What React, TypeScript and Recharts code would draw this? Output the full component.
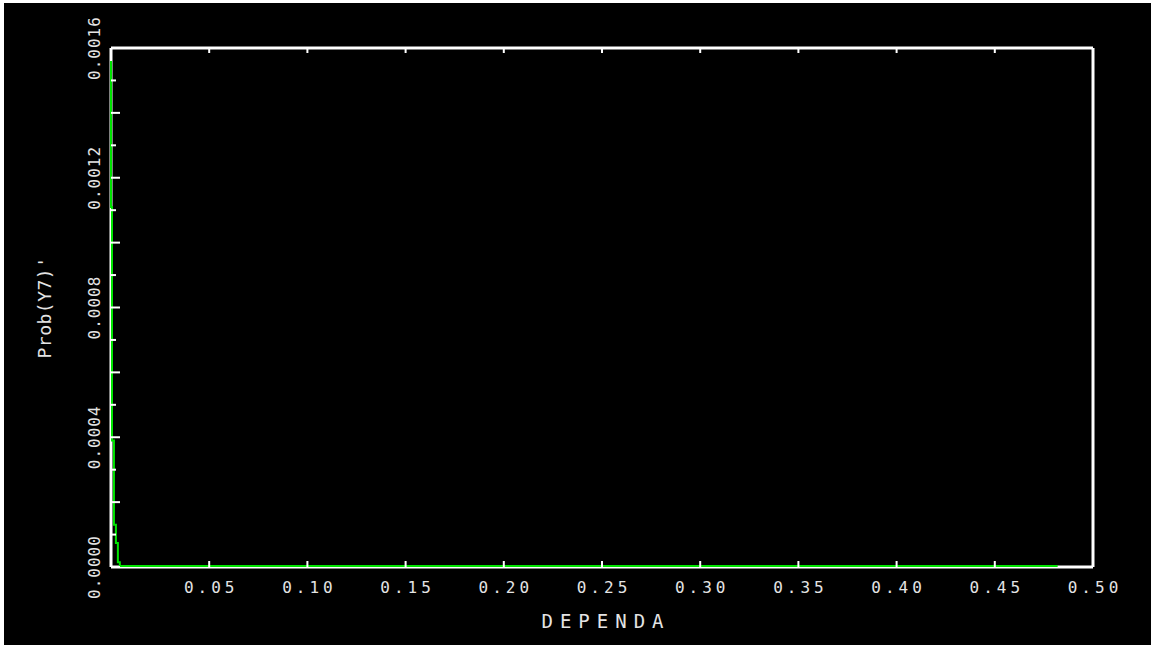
import { LineChart, Line, XAxis, YAxis, CartesianGrid } from 'recharts';

// DEPENDA values and the density
const DEPENDA = [0, 0.0005, 0.0015, 0.0025, 0.0035, 0.0045, 0.482];
const PROB = [0.00156, 0.00111, 0.00039, 0.00013, 0.000074, 0.000015, 0.000003];

const X_TICKS = [0, 0.05, 0.1, 0.15, 0.2, 0.25, 0.3, 0.35, 0.4, 0.45, 0.5];
const Y_TICKS = [
  0, 0.0001, 0.0002, 0.0003, 0.0004, 0.0005, 0.0006, 0.0007, 0.0008,
  0.0009, 0.001, 0.0011, 0.0012, 0.0013, 0.0014, 0.0015, 0.0016,
];

const X_TITLE = 'DEPENDA';
const Y_TITLE = "Prob(Y7)'";

const data = DEPENDA.map((x, i) => ({ x, p: PROB[i] }));

const FONT = '"DejaVu Sans Mono", "Liberation Mono", monospace';
const INK = '#e4e4e4';
const FRAME = '#ffffff';
const GREEN = '#00e400';

const step = (v: number) => Math.round(v / 0.0001);

const LeftTick = ({ x, y, payload }: any) => {
  const k = step(payload.value);
  const tx = x - 11;
  return (
    <g>
      <line x1={x} y1={y} x2={x + (k % 2 === 0 ? 9 : 5)} y2={y} stroke={FRAME} strokeWidth={2} />
      {k % 4 === 0 && (
        <text
          x={tx}
          y={y}
          transform={`rotate(-90 ${tx} ${y})`}
          textAnchor="middle"
          fontFamily={FONT}
          fontSize={16}
          letterSpacing={1}
          fill={INK}
        >
          {payload.value.toFixed(4)}
        </text>
      )}
    </g>
  );
};

const RightTick = ({ x, y, payload }: any) => {
  const k = step(payload.value);
  return <line x1={x} y1={y} x2={x - (k % 2 === 0 ? 9 : 5)} y2={y} stroke={FRAME} strokeWidth={2} />;
};

const BottomTick = ({ x, y, payload }: any) => (
  <g>
    <line x1={x} y1={y} x2={x} y2={y - 6} stroke={FRAME} strokeWidth={2} />
    {payload.value > 0 && (
      <text
        x={x + 2}
        y={y + 26}
        textAnchor="middle"
        fontFamily={FONT}
        fontSize={16}
        letterSpacing={4}
        fill={INK}
      >
        {payload.value.toFixed(2)}
      </text>
    )}
  </g>
);

const TopTick = ({ x, y }: any) => (
  <line x1={x} y1={y} x2={x} y2={y + 5} stroke={FRAME} strokeWidth={2} />
);

const XTitle = ({ viewBox }: any) => (
  <text
    x={viewBox.x + viewBox.width / 2 + 4}
    y={viewBox.y + 61}
    textAnchor="middle"
    fontFamily={FONT}
    fontSize={19}
    letterSpacing={7}
    fill={INK}
  >
    {X_TITLE}
  </text>
);

const YTitle = ({ viewBox }: any) => {
  const tx = 47;
  const ty = viewBox.y + viewBox.height / 2;
  return (
    <text
      x={tx}
      y={ty}
      transform={`rotate(-90 ${tx} ${ty})`}
      textAnchor="middle"
      fontFamily={FONT}
      fontSize={18}
      letterSpacing={0.5}
      fill={INK}
    >
      {Y_TITLE}
    </text>
  );
};

export default function App() {
  return (
    <div style={{ position: 'absolute', left: 4, top: 3, width: 1147, height: 642, background: '#000' }}>
      <LineChart width={1147} height={642} data={data} margin={{ top: 44, right: 57, bottom: 0, left: 0 }}>
        {/* the white frame, drawn under the green line */}
        <CartesianGrid
          stroke={FRAME}
          strokeWidth={3}
          strokeDasharray=""
          horizontalCoordinatesGenerator={({ offset }: any) => [offset.top, offset.top + offset.height]}
          verticalCoordinatesGenerator={({ offset }: any) => [offset.left, offset.left + offset.width]}
        />
        <XAxis
          dataKey="x"
          type="number"
          domain={[0, 0.5]}
          ticks={X_TICKS}
          interval={0}
          height={78}
          tickSize={0}
          tickMargin={0}
          tickLine={false}
          tick={<BottomTick />}
          axisLine={false}
          label={<XTitle />}
        />
        <XAxis
          xAxisId="top"
          orientation="top"
          dataKey="x"
          type="number"
          domain={[0, 0.5]}
          ticks={X_TICKS}
          interval={0}
          height={1}
          tickSize={0}
          tickMargin={0}
          tickLine={false}
          tick={<TopTick />}
          axisLine={false}
        />
        <YAxis
          type="number"
          domain={[0, 0.0016]}
          ticks={Y_TICKS}
          interval={0}
          width={107}
          tickSize={0}
          tickMargin={0}
          tickLine={false}
          tick={<LeftTick />}
          axisLine={false}
          label={<YTitle />}
        />
        <YAxis
          yAxisId="right"
          orientation="right"
          type="number"
          domain={[0, 0.0016]}
          ticks={Y_TICKS}
          interval={0}
          width={1}
          tickSize={0}
          tickMargin={0}
          tickLine={false}
          tick={<RightTick />}
          axisLine={false}
        />
        <Line
          dataKey="p"
          type="stepBefore"
          stroke={GREEN}
          strokeWidth={2}
          dot={false}
          isAnimationActive={false}
        />
      </LineChart>
    </div>
  );
}
